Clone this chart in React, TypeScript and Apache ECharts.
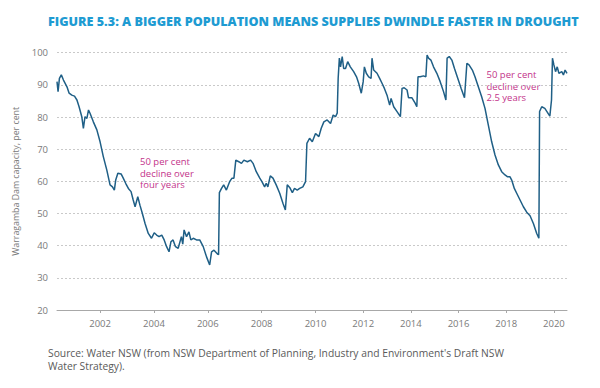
import React, { useEffect, useRef } from "react";
import * as echarts from "echarts";

// Warragamba Dam capacity (per cent) by date (decimal year)
const years: number[] = [
  2000.40, 2000.44, 2000.49, 2000.56, 2000.64, 2000.77, 2000.85, 2000.95, 2001.05, 2001.14,
  2001.22, 2001.32, 2001.38, 2001.44, 2001.51, 2001.57, 2001.63, 2001.75, 2001.88, 2002.00,
  2002.12, 2002.25, 2002.37, 2002.46, 2002.53, 2002.58, 2002.66, 2002.78, 2002.86, 2002.95,
  2003.05, 2003.15, 2003.23, 2003.30, 2003.40, 2003.48, 2003.57, 2003.67, 2003.79, 2003.91,
  2004.01, 2004.10, 2004.19, 2004.29, 2004.38, 2004.47, 2004.56, 2004.63, 2004.71, 2004.80,
  2004.90, 2005.02, 2005.07, 2005.12, 2005.21, 2005.30, 2005.37, 2005.46, 2005.58, 2005.70,
  2005.83, 2005.95, 2006.07, 2006.14, 2006.23, 2006.36, 2006.40, 2006.43, 2006.51, 2006.59,
  2006.69, 2006.81, 2006.90, 2006.97, 2007.04, 2007.15, 2007.25, 2007.34, 2007.47, 2007.59,
  2007.68, 2007.80, 2007.93, 2008.01, 2008.11, 2008.17, 2008.23, 2008.32, 2008.42, 2008.54,
  2008.67, 2008.79, 2008.88, 2008.95, 2009.04, 2009.14, 2009.22, 2009.32, 2009.41, 2009.53,
  2009.63, 2009.68, 2009.78, 2009.88, 2010.00, 2010.14, 2010.24, 2010.35, 2010.49, 2010.63,
  2010.74, 2010.84, 2010.91, 2010.95, 2011.00, 2011.05, 2011.12, 2011.18, 2011.26, 2011.35,
  2011.46, 2011.60, 2011.72, 2011.81, 2011.92, 2012.00, 2012.05, 2012.13, 2012.23, 2012.33,
  2012.37, 2012.44, 2012.58, 2012.69, 2012.79, 2012.89, 2013.00, 2013.11, 2013.17, 2013.28,
  2013.42, 2013.56, 2013.63, 2013.72, 2013.84, 2013.90, 2014.04, 2014.18, 2014.25, 2014.30,
  2014.39, 2014.53, 2014.63, 2014.68, 2014.74, 2014.84, 2014.95, 2015.09, 2015.23, 2015.37,
  2015.47, 2015.52, 2015.61, 2015.72, 2015.83, 2015.97, 2016.11, 2016.25, 2016.35, 2016.44,
  2016.58, 2016.69, 2016.83, 2016.97, 2017.11, 2017.25, 2017.39, 2017.53, 2017.67, 2017.81,
  2017.95, 2018.06, 2018.16, 2018.23, 2018.34, 2018.44, 2018.58, 2018.72, 2018.86, 2019.00,
  2019.14, 2019.28, 2019.37, 2019.40, 2019.49, 2019.62, 2019.83, 2019.90, 2019.94, 2020.00,
  2020.07, 2020.14, 2020.21, 2020.33, 2020.40, 2020.47, 2020.55,
];

const capacity: number[] = [
  91.0, 87.9, 92.0, 93.1, 91.5, 89.4, 87.4, 86.8, 86.5, 85.3,
  83.2, 80.1, 76.5, 80.1, 79.6, 82.2, 81.1, 78.5, 76.0, 72.3,
  67.7, 63.5, 58.9, 58.3, 57.3, 60.4, 62.5, 62.3, 61.0, 59.4,
  57.8, 56.8, 54.2, 52.1, 55.2, 52.6, 50.0, 46.9, 43.8, 42.3,
  44.0, 43.3, 42.8, 43.3, 41.8, 39.7, 38.1, 41.2, 41.8, 39.7,
  39.2, 42.8, 40.5, 44.9, 42.8, 44.3, 41.8, 42.3, 41.8, 41.8,
  39.7, 36.6, 34.0, 38.1, 38.6, 37.4, 37.2, 56.5, 57.8, 58.9,
  57.3, 59.9, 61.0, 61.0, 66.6, 66.1, 65.6, 66.6, 66.1, 66.6,
  65.6, 63.0, 61.0, 59.9, 58.3, 59.4, 58.3, 61.7, 61.0, 58.9,
  56.3, 53.2, 51.1, 58.9, 58.1, 56.5, 57.8, 57.3, 57.8, 58.3,
  59.9, 71.8, 73.4, 72.3, 74.9, 73.9, 76.5, 78.5, 79.1, 78.0,
  80.6, 80.1, 81.2, 92.0, 98.3, 95.6, 98.8, 95.1, 95.1, 97.2,
  95.6, 94.1, 92.5, 90.5, 87.4, 91.0, 95.6, 93.6, 92.5, 92.0,
  98.3, 94.6, 93.6, 92.0, 90.5, 88.9, 86.8, 83.7, 85.8, 83.2,
  81.7, 80.1, 88.9, 89.1, 88.4, 86.0, 86.0, 84.3, 83.2, 92.5,
  92.5, 92.8, 92.5, 99.3, 98.3, 97.7, 95.6, 93.6, 91.0, 87.9,
  85.3, 98.3, 98.8, 97.7, 95.1, 92.0, 88.9, 86.0, 96.7, 96.2,
  94.6, 92.5, 89.4, 86.3, 82.7, 77.5, 72.3, 68.2, 65.1, 63.0,
  62.0, 61.4, 61.4, 60.4, 57.8, 56.3, 54.2, 52.1, 50.4, 49.3,
  46.9, 43.8, 42.3, 81.7, 83.2, 82.7, 80.3, 85.3, 98.3, 96.2,
  94.1, 95.6, 93.6, 94.1, 93.1, 94.6, 93.6,
];

const tickYears: number[] = [2002, 2004, 2006, 2008, 2010, 2012, 2014, 2016, 2018, 2020];

const titleText = "FIGURE 5.3: A BIGGER POPULATION MEANS SUPPLIES DWINDLE FASTER IN DROUGHT";
const yAxisName = "Warragamba Dam capacity, per cent";
const sourceLines = [
  "Source: Water NSW (from NSW Department of Planning, Industry and Environment's Draft NSW",
  "Water Strategy).",
];
const note1 = ["50 per cent", "decline over", "four years"];
const note2 = ["50 per cent", "decline over", "2.5 years"];

// The source chart's time axis is compressed after 2010
const BREAK = 2010;
const K = 23.9 / 27;
const toAxis = (y: number) => (y <= BREAK ? y : BREAK + (y - BREAK) * K);

export default function App() {
  const ref = useRef<HTMLDivElement>(null);
  useEffect(() => {
    if (!ref.current) return;
    document.body.style.margin = "0";
    const chart = echarts.init(ref.current, null, { renderer: "svg" });
    const data = years.map((y, i) => [toAxis(y), capacity[i]]);
    const tickPos = tickYears.map(toAxis);
    const fmt = (v: number) => {
      let best = 0;
      for (let i = 0; i < tickPos.length; i++) {
        if (Math.abs(tickPos[i] - v) < Math.abs(tickPos[best] - v)) best = i;
      }
      return String(tickYears[best]);
    };
    const font = "'Open Sans', 'Noto Sans', sans-serif";
    const noteStyle = { fill: "#c3338a", fontSize: 9.5, fontFamily: font };
    const lines = (arr: string[], x: number, y0: number, style: any, step: number) =>
      arr.map((t, i) => ({
        type: "text",
        x,
        y: y0 + i * step,
        style: { ...style, text: t, verticalAlign: "middle", align: "left" },
      }));
    chart.setOption({
      animation: false,
      grid: { left: 57, right: 33, top: 52.7, bottom: 78 },
      title: {
        text: titleText,
        left: 48,
        top: 15,
        padding: 0,
        textStyle: { color: "#1e9bd2", fontSize: 12.6, fontWeight: 800, fontFamily: font },
      },
      xAxis: {
        type: "value",
        min: toAxis(2000.4),
        max: toAxis(2020.55),
        axisLine: { lineStyle: { color: "#a8a8a8", width: 1 } },
        axisTick: { show: true, customValues: tickPos, length: 3, lineStyle: { color: "#a8a8a8" } },
        axisLabel: { customValues: tickPos, formatter: fmt, color: "#7a7a7a", fontSize: 9.5, margin: 8, fontFamily: font },
        splitLine: { show: false },
      },
      yAxis: {
        type: "value",
        min: 20,
        max: 100,
        interval: 10,
        name: yAxisName,
        nameLocation: "middle",
        nameGap: 24,
        nameTextStyle: { color: "#7a7a7a", fontSize: 8.8, fontFamily: font },
        axisLine: { show: false },
        axisTick: { show: false },
        axisLabel: { color: "#7a7a7a", fontSize: 9.5, margin: 9, fontFamily: font },
        splitLine: { lineStyle: { color: "#c9c9c9", type: [2, 2], width: 1 } },
      },
      series: [
        {
          type: "line",
          data,
          showSymbol: false,
          lineStyle: { color: "#1f5f86", width: 1.5 },
          z: 3,
        },
      ],
      graphic: [
        ...lines(note1, 140, 161.5, noteStyle, 11.6),
        ...lines(note2, 486.5, 74.5, noteStyle, 11.6),
        ...lines(sourceLines, 48, 353, { fill: "#5a5a5a", fontSize: 10.3, fontFamily: font }, 13),
      ],
    });
    return () => chart.dispose();
  }, []);
  return <div ref={ref} style={{ width: 600, height: 388 }} />;
}
